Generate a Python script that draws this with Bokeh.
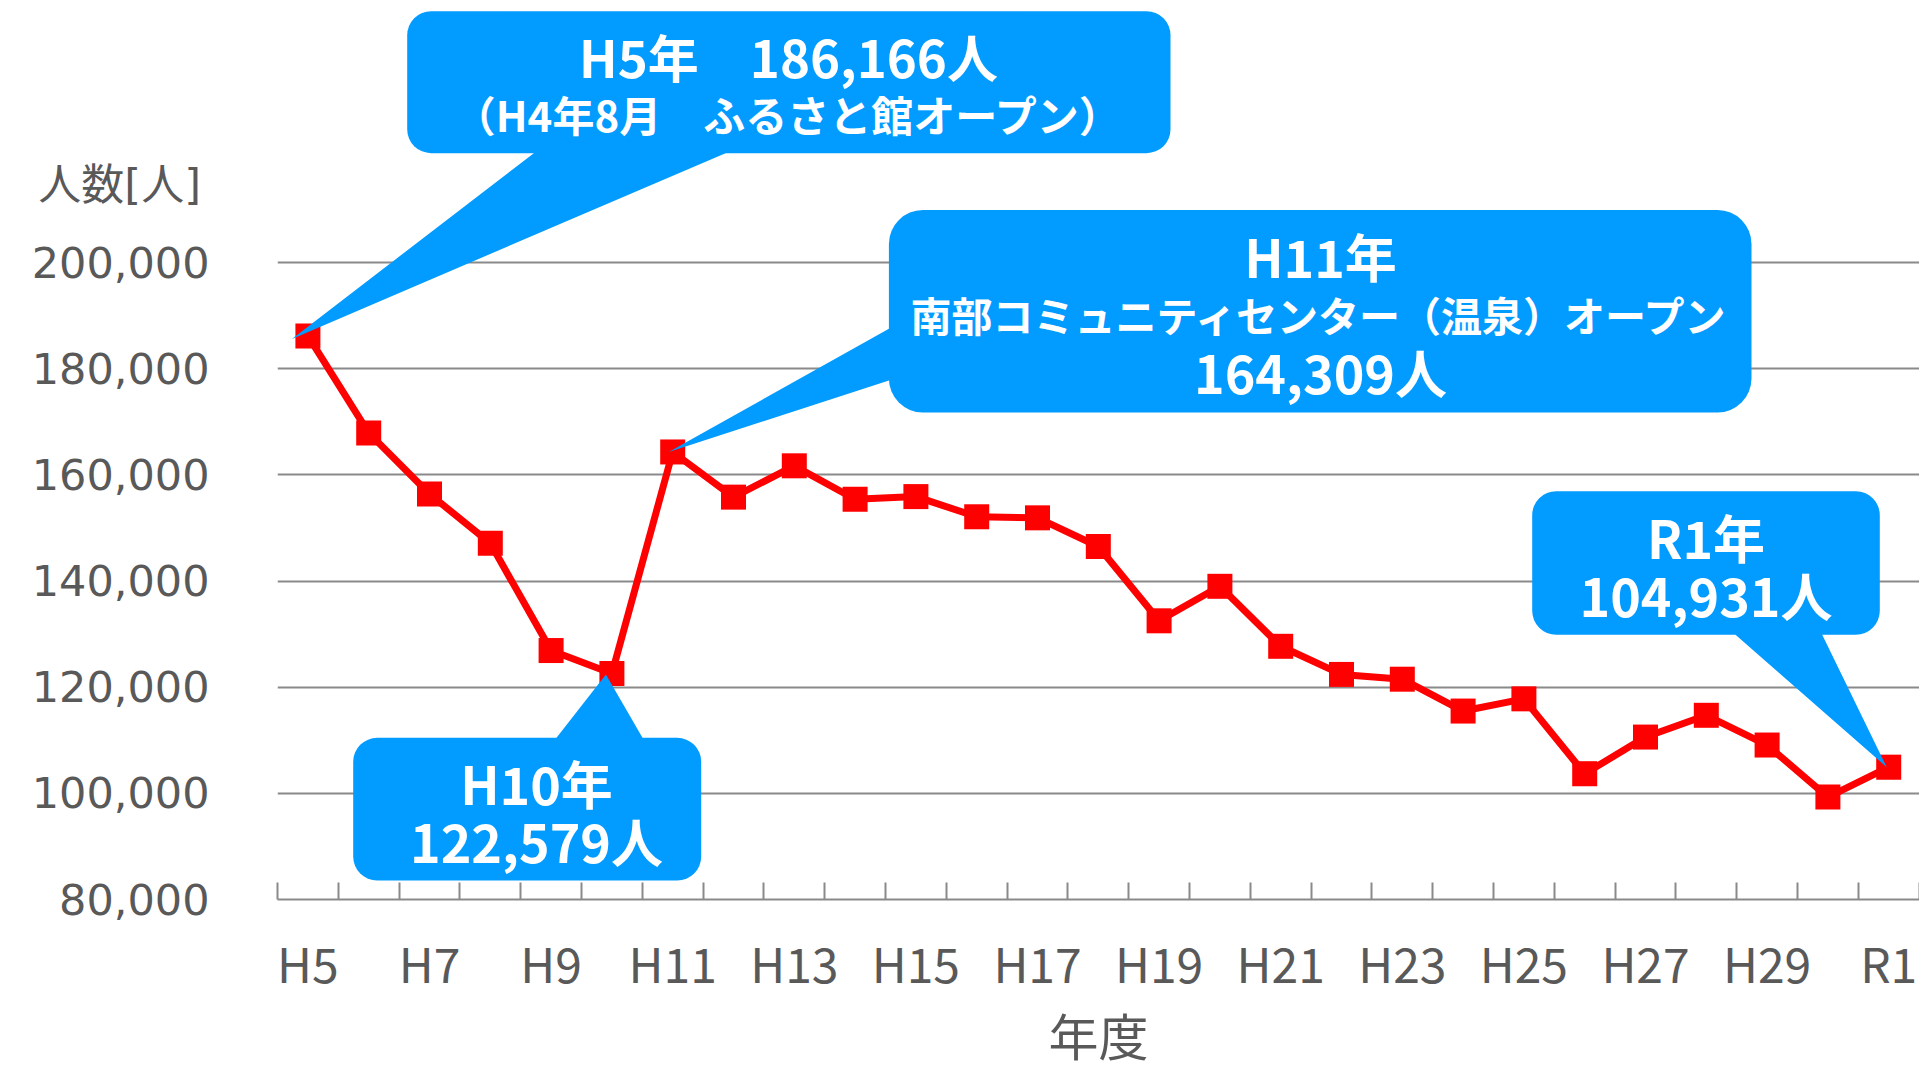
from bokeh.plotting import figure
from bokeh.models import (Range1d, FixedTicker, NumeralTickFormatter, BoxAnnotation,
                          PolyAnnotation, Label, ColumnDataSource)
from bokeh.embed import file_html
from bokeh.resources import INLINE

# ---------------- data ----------------
years = ["H5", "H6", "H7", "H8", "H9", "H10", "H11", "H12", "H13", "H14", "H15", "H16",
         "H17", "H18", "H19", "H20", "H21", "H22", "H23", "H24", "H25", "H26", "H27",
         "H28", "H29", "H30", "R1"]
visitors = [186166, 167900, 156400, 147100, 126900, 122579, 164309, 155800, 161700,
            155400, 155900, 152100, 151900, 146500, 132500, 139000, 127700, 122400,
            121500, 115500, 117800, 103700, 110600, 114700, 109100, 99300, 104931]
y_ticks = [80000, 100000, 120000, 140000, 160000, 180000, 200000]
y_title = "人数[人]"
x_title = "年度"

callout_texts = {
    "H5": ["H5年\u3000186,166人", "（H4年8月\u3000ふるさと館オープン）"],
    "H11": ["H11年", "南部コミュニティセンター（温泉）オープン", "164,309人"],
    "H10": ["H10年", "122,579人"],
    "R1": ["R1年", "104,931人"],
}

# ---------------- layout ----------------
W, H = 1919, 1074
FRAME_L, FRAME_R, FRAME_T, FRAME_B = 277, 1919, 0, 899
PX_PER_CAT = 60.8
X0 = -0.5
X1 = X0 + (FRAME_R - FRAME_L) / PX_PER_CAT
Y0 = 80000
YPP = 120000 / 637.0
Y1 = Y0 + (FRAME_B - FRAME_T) * YPP


def px2x(page_x):
    return X0 + (page_x - FRAME_L) / PX_PER_CAT


def px2y(page_y):
    return Y0 + (FRAME_B - page_y) * YPP


GRAY_TXT = "#595959"
GRAY_LINE = "#8a8a8a"
BLUE = "#029BFF"
FONT_JP = "Noto Sans CJK JP"

idx = list(range(len(years)))
src = ColumnDataSource(dict(x=idx, y=visitors, year=years))

p = figure(width=W, height=H, x_range=Range1d(X0, X1), y_range=Range1d(Y0, Y1),
           output_backend="svg", toolbar_location=None,
           min_border_left=FRAME_L, min_border_right=0, min_border_top=0,
           min_border_bottom=H - FRAME_B)
p.title.visible = False
p.outline_line_color = None
p.background_fill_color = "white"
p.border_fill_color = "white"

# y axis (the unit title sits as an extra labelled position above the numbers)
title_y = int(round(px2y(184.5)))
ya = p.yaxis[0]
ya.ticker = FixedTicker(ticks=y_ticks + [title_y])
ya.formatter = NumeralTickFormatter(format="0,0")
ya.major_label_overrides = {title_y: y_title + "\u2009"}
ya.axis_line_color = None
ya.major_tick_line_color = None
ya.minor_tick_line_color = None
ya.major_label_standoff = 62
ya.major_label_text_font = "DejaVu Sans, Noto Sans CJK JP"
ya.major_label_text_font_size = "43px"
ya.major_label_text_color = GRAY_TXT
p.ygrid[0].ticker = FixedTicker(ticks=y_ticks)
p.ygrid.grid_line_color = GRAY_LINE
p.ygrid.grid_line_width = 2
p.xgrid.visible = False

# x axis
label_idx = list(range(0, len(years), 2))
xa = p.xaxis[0]
xa.ticker = FixedTicker(ticks=label_idx, minor_ticks=[i - 0.5 for i in range(len(years) + 1)])
xa.major_label_overrides = {i: years[i] for i in label_idx}
xa.major_tick_line_color = None
xa.minor_tick_in = 17
xa.minor_tick_out = 0
xa.minor_tick_line_color = GRAY_LINE
xa.minor_tick_line_width = 2
xa.axis_line_color = GRAY_LINE
xa.axis_line_width = 2
xa.major_label_text_font = FONT_JP
xa.major_label_text_font_size = "48px"
xa.major_label_text_color = GRAY_TXT
xa.major_label_standoff = 21
xa.axis_label = x_title
xa.axis_label_text_font = FONT_JP
xa.axis_label_text_font_size = "50px"
xa.axis_label_text_font_style = "normal"
xa.axis_label_text_color = GRAY_TXT
xa.axis_label_standoff = -2

# series
p.line("x", "y", source=src, line_color="#FF0000", line_width=7)
p.scatter("x", "y", source=src, marker="square", size=25, fill_color="#FF0000",
          line_color=None)

# callouts: box (L, R, T, B) in px, pointer base points, inward direction,
# tip offset px, text line (cx, cy, size)
callouts = [
    dict(key="H5", box=(406.7, 1170, 10.7, 152.7), base=[(533.3, 152.7), (725, 152.7)],
         inward=(0, -12), tip_off=(-16, 3),
         lines=[(788, 55, 51), (788, 113.3, 42)]),
    dict(key="H11", box=(888.4, 1751, 209.5, 412), base=[(888.4, 328.3), (888.4, 380)],
         inward=(12, 0), tip_off=(-4, 0),
         lines=[(1320, 254.7, 52), (1320, 313, 41), (1320, 370.7, 52)]),
    dict(key="H10", box=(352.7, 700.7, 737.3, 880), base=[(556, 737.3), (642, 737.3)],
         inward=(0, 12), tip_off=(-6, 1),
         lines=[(536, 781.7, 52), (536, 840, 52)]),
    dict(key="R1", box=(1531.7, 1879.3, 490.7, 634.3), base=[(1735, 634.3), (1821.7, 634.3)],
         inward=(0, -12), tip_off=(-2, 0),
         lines=[(1705.5, 535.7, 52), (1705.5, 594, 52)]),
]

for c in callouts:
    L, R, T, B = c["box"]
    rad = int(round(min(R - L, B - T) / 6.0))
    p.add_layout(BoxAnnotation(left=px2x(L), right=px2x(R), top=px2y(T), bottom=px2y(B),
                               fill_color=BLUE, fill_alpha=1.0, line_color=None,
                               border_radius=rad))
    i = years.index(c["key"])
    tx = i + c["tip_off"][0] / PX_PER_CAT
    ty = visitors[i] - c["tip_off"][1] * YPP
    (b1x, b1y), (b2x, b2y) = c["base"]
    dx, dy = c["inward"]
    xs = [px2x(b1x + dx), px2x(b1x), tx, px2x(b2x), px2x(b2x + dx)]
    ys = [px2y(b1y + dy), px2y(b1y), ty, px2y(b2y), px2y(b2y + dy)]
    p.add_layout(PolyAnnotation(xs=xs, ys=ys, fill_color=BLUE, fill_alpha=1.0,
                                line_color=None))
    for text, (cx, cy, size) in zip(callout_texts[c["key"]], c["lines"]):
        p.add_layout(Label(x=px2x(cx), y=px2y(cy), text=text, text_align="center",
                           text_baseline="middle", text_font=FONT_JP,
                           text_font_size=f"{size}px", text_font_style="bold",
                           text_color="white"))

open("out.html", "w").write(file_html(p, INLINE))
